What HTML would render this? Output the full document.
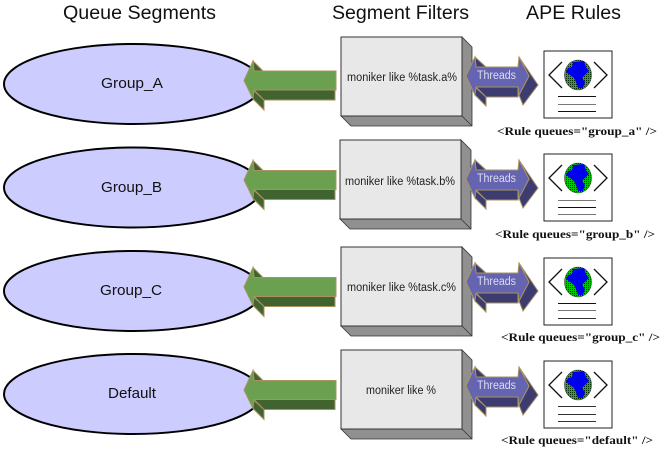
<!DOCTYPE html>
<html><head><meta charset="utf-8"><style>
html,body{margin:0;padding:0;background:#fff;width:672px;height:458px;overflow:hidden}
svg{display:block}
.t{font-family:"Liberation Sans",sans-serif;font-size:19px;fill:#111}
.g{font-family:"Liberation Sans",sans-serif;font-size:14.5px;fill:#111}
.m{font-family:"Liberation Sans",sans-serif;font-size:11.5px;fill:#222}
.h{font-family:"Liberation Sans",sans-serif;font-size:11.5px;fill:#dcdcf4}
.r{font-family:"Liberation Serif",serif;font-weight:bold;font-size:12px;fill:#111}
</style></head><body>
<svg width="672" height="458" viewBox="0 0 672 458" xmlns="http://www.w3.org/2000/svg">
<defs>
<pattern id="dither" width="2" height="2" patternUnits="userSpaceOnUse">
<rect width="2" height="2" fill="#00c800"/><rect width="1" height="1" fill="#003000"/>
</pattern>
<g id="ell"><ellipse cx="133" cy="0" rx="129" ry="40" fill="#ccccff" stroke="#000" stroke-width="2"/></g>
<g id="green" stroke="#a8925f" stroke-width="1" stroke-linejoin="miter">
<polygon points="253,61 263,71 254,71" fill="#41632f"/>
<polygon points="254,90 264,100 335,100 335,90" fill="#41632f"/>
<polygon points="253,90 264,100 264,110 253,99" fill="#41632f"/>
<polygon points="244,80.5 253,61 254,71 336,71 336,90 254,90 253,99" fill="#6aa050"/>
</g>
<g id="box">
<polygon points="341,116 351,126 472,126 472,47 462,37 462,116" fill="#909090" stroke="#333" stroke-width="0.8"/>
<rect x="341" y="37" width="121" height="79" fill="#e8e8e8" stroke="#333" stroke-width="1"/>
<line x1="462" y1="116" x2="472" y2="126" stroke="#333" stroke-width="0.8"/>
</g>
<g id="thr" stroke="#a8925f" stroke-width="1">
<polygon points="475,57 486,67 476,67" fill="#3c3c70"/>
<polygon points="476,87 518,87 518,97 486,97" fill="#3c3c70"/>
<polygon points="475,87 486,97 486,106 475,95" fill="#3c3c70"/>
<polygon points="519,57 538,85 523,105 519,95 529,76" fill="#3c3c70"/>
<polygon points="466,76 475,57 476,67 518,67 519,57 529,76 519,95 518,87 476,87 475,95" fill="#6464b0"/>
</g>
<g id="doc">
<rect x="544" y="51" width="68" height="67" fill="#fff" stroke="#222" stroke-width="1"/>
<polyline points="562,62 549,75 562,88" fill="none" stroke="#111" stroke-width="1.3"/>
<polyline points="594,62 607,75 594,88" fill="none" stroke="#111" stroke-width="1.3"/>
<ellipse cx="578" cy="75" rx="13.5" ry="15" fill="url(#dither)" stroke="#444" stroke-width="0.6"/>
<polygon points="573,62 584,61 586,67 589,71 585,75 582,78 585,82 583,88 578,88 576,82 574,78 570,75 566,72 568,68 572,67" fill="#0000f0"/>
</g>
</defs>
<rect width="672" height="458" fill="#fff"/>

<text class="t" x="63" y="19" textLength="153" lengthAdjust="spacingAndGlyphs">Queue Segments</text>
<text class="t" x="332" y="19" textLength="137" lengthAdjust="spacingAndGlyphs">Segment Filters</text>
<text class="t" x="526" y="19" textLength="95" lengthAdjust="spacingAndGlyphs">APE Rules</text>

<use href="#ell" y="84"/><use href="#ell" y="187.5"/><use href="#ell" y="291"/><use href="#ell" y="394"/>
<use href="#green"/><use href="#green" y="99.5"/><use href="#green" y="206.5"/><use href="#green" y="309.5"/>
<use href="#box"/><use href="#box" x="-1" y="103"/><use href="#box" y="210"/><use href="#box" y="313"/>
<use href="#thr"/><use href="#thr" y="103"/><use href="#thr" y="206"/><use href="#thr" y="310"/>
<use href="#doc"/><use href="#doc" y="103"/><use href="#doc" y="207"/><use href="#doc" y="310"/>

<g stroke-width="1">
<line x1="558" x2="596" y1="96.5" y2="96.5" stroke="#111"/><line x1="558" x2="596" y1="104.5" y2="104.5" stroke="#777"/><line x1="558" x2="596" y1="111.5" y2="111.5" stroke="#111"/>
<line x1="558" x2="596" y1="200.5" y2="200.5" stroke="#777"/><line x1="558" x2="596" y1="207.5" y2="207.5" stroke="#111"/><line x1="558" x2="596" y1="214.5" y2="214.5" stroke="#777"/>
<line x1="558" x2="596" y1="303.5" y2="303.5" stroke="#111"/><line x1="558" x2="596" y1="310.5" y2="310.5" stroke="#777"/><line x1="558" x2="596" y1="318.5" y2="318.5" stroke="#333"/>
<line x1="558" x2="596" y1="406.5" y2="406.5" stroke="#333"/><line x1="558" x2="596" y1="414.5" y2="414.5" stroke="#333"/><line x1="558" x2="596" y1="421.5" y2="421.5" stroke="#333"/>
</g>

<text class="g" x="101" y="88" textLength="62" lengthAdjust="spacingAndGlyphs">Group_A</text>
<text class="g" x="101" y="192" textLength="61" lengthAdjust="spacingAndGlyphs">Group_B</text>
<text class="g" x="100" y="295" textLength="62" lengthAdjust="spacingAndGlyphs">Group_C</text>
<text class="g" x="108" y="398" textLength="48" lengthAdjust="spacingAndGlyphs">Default</text>

<text class="m" x="347" y="81" textLength="110" lengthAdjust="spacingAndGlyphs">moniker like %task.a%</text>
<text class="m" x="345" y="185" textLength="110" lengthAdjust="spacingAndGlyphs">moniker like %task.b%</text>
<text class="m" x="347" y="291" textLength="109" lengthAdjust="spacingAndGlyphs">moniker like %task.c%</text>
<text class="m" x="366" y="394" textLength="70" lengthAdjust="spacingAndGlyphs">moniker like %</text>

<text class="h" x="477" y="79" textLength="39" lengthAdjust="spacingAndGlyphs">Threads</text>
<text class="h" x="477" y="182" textLength="39" lengthAdjust="spacingAndGlyphs">Threads</text>
<text class="h" x="477" y="285" textLength="39" lengthAdjust="spacingAndGlyphs">Threads</text>
<text class="h" x="477" y="389" textLength="39" lengthAdjust="spacingAndGlyphs">Threads</text>

<text class="r" x="497" y="135" textLength="160" lengthAdjust="spacingAndGlyphs">&lt;Rule queues="group_a" /&gt;</text>
<text class="r" x="495" y="238" textLength="160" lengthAdjust="spacingAndGlyphs">&lt;Rule queues="group_b" /&gt;</text>
<text class="r" x="501" y="341" textLength="159" lengthAdjust="spacingAndGlyphs">&lt;Rule queues="group_c" /&gt;</text>
<text class="r" x="501" y="444" textLength="152" lengthAdjust="spacingAndGlyphs">&lt;Rule queues="default" /&gt;</text>
</svg>
</body></html>
